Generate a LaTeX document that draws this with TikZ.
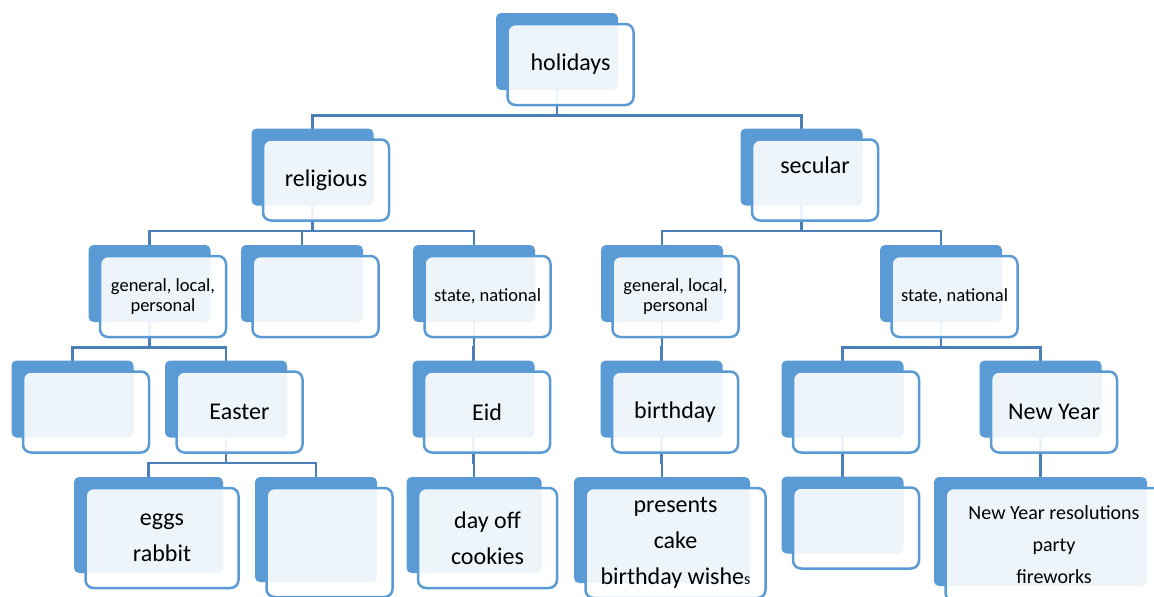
\documentclass[tikz,border=0pt]{standalone}
\usepackage{fontspec}
\setmainfont{Carlito}
\usetikzlibrary{positioning,calc,backgrounds}
\definecolor{boxblue}{HTML}{5B9BD5}
\definecolor{linkblue}{HTML}{4A7FBA}
\tikzset{
  backbox/.style  = {fill=boxblue, rounded corners=2.5pt, inner sep=0pt, outer sep=0pt},
  frontbox/.style = {draw=boxblue, fill=white, fill opacity=0.9, text opacity=1,
                     line width=1.25pt, rounded corners=4pt, inner sep=0pt, outer sep=0pt,
                     align=center, text=black, font=\fontsize{12}{18}\selectfont},
  small/.style    = {font=\fontsize{9.25}{10}\selectfont},
  nyfont/.style   = {font=\fontsize{10}{16}\selectfont},
  link/.style     = {draw=linkblue, line width=1.3pt},
}
% back box at (x,y) of size w x h, front box offset down-right with the text
\newcommand{\hnode}[7][]{%
  \node[backbox, minimum width=#5*0.5pt, minimum height=#6*0.5pt] (#2) at (#3,#4) {};
  \node[frontbox, #1, minimum width=(#5+4)*0.5pt, minimum height=(#6+4)*0.5pt]
    (#2F) at ($(#2)+(13.5,13)$) {#7};}

\begin{document}
\begin{tikzpicture}[x=0.5pt,y=-0.5pt]
\useasboundingbox (0,0) rectangle (1154,596);
\clip (0,0) rectangle (1154,596);

% ------------------------------------------------------------------ levels 1-3
\hnode{hol}{557}{51.5}{122}{77}{holidays}
\hnode{rel}{312.5}{167}{122}{77}{religious}
\hnode{sec}{801.5}{167}{122}{77}{\raisebox{7.5pt}[\height][\depth]{secular}}
\hnode[small]{rgen}{149.5}{283.5}{122}{77}{general, local,\\personal}
\hnode{rnone}{302}{283.5}{122}{77}{}
\hnode[small]{rstate}{474}{283.5}{122}{77}{state, national}
\hnode[small]{sgen}{662}{283.5}{122}{77}{general, local,\\personal}
\hnode[small]{sstate}{941}{283.5}{122}{77}{state, national}

% ------------------------------------------------------------------ level 4
\hnode{rgena}{72.5}{399}{122}{77}{}
\hnode{easter}{226}{399}{122}{77}{Easter}
\hnode{eid}{473.5}{399}{122}{77}{Eid}
\hnode{bday}{661.5}{399}{122}{77}{birthday}
\hnode{snone}{842.5}{399}{122}{77}{}
\hnode{ny}{1040.5}{399}{122}{77}{New Year}

% ------------------------------------------------------------------ level 5
\hnode{eggs}{148.5}{525}{149}{96}{eggs\\rabbit}
\hnode{enone}{316}{529.5}{122}{105}{}
\hnode{dayoff}{474}{525}{135}{96}{day off\\cookies}
\hnode{presents}{662}{530}{176}{106}{presents\\cake\\birthday wishe{\fontsize{8}{8}\selectfont s}}
\hnode{snoneb}{842.5}{515}{122}{77}{}
\hnode[nyfont]{nyres}{1040.5}{531.5}{213}{109}{New Year resolutions\\party\\fireworks}

% ------------------------------------------------------------------ connectors
\begin{pgfonlayer}{background}
\foreach \p/\c in {hol/rel, hol/sec, rel/rgen, rel/rnone, rel/rstate, sec/sgen, sec/sstate,
                   rgen/rgena, rgen/easter, rstate/eid, sgen/bday, sstate/snone, sstate/ny,
                   easter/eggs, easter/enone, eid/dayoff, bday/presents, snone/snoneb, ny/nyres}
  {\draw[link] (\p.south) -- ++(0,25.5) -| (\c.north);}
\end{pgfonlayer}

\end{tikzpicture}
\end{document}
